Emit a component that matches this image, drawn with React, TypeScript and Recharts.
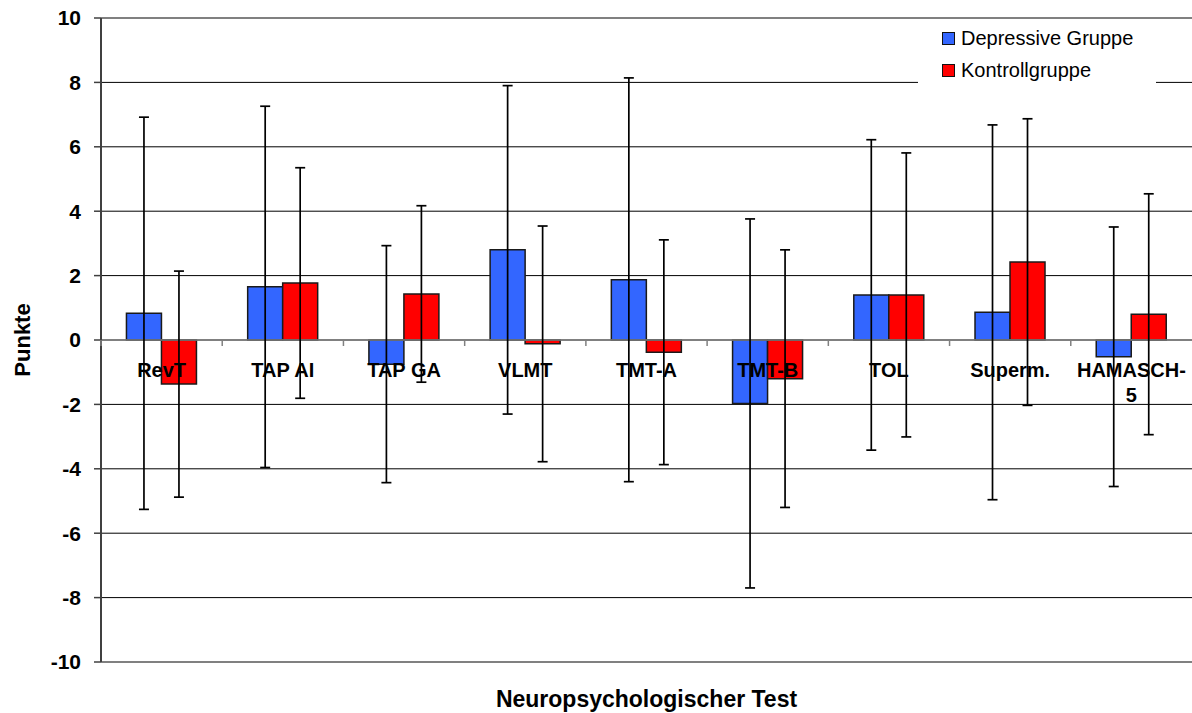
import {
  BarChart,
  Bar,
  XAxis,
  YAxis,
  CartesianGrid,
  ReferenceLine,
  ErrorBar,
  Legend,
  Label,
} from "recharts";

const tests = ["RevT", "TAP AI", "TAP GA", "VLMT", "TMT-A", "TMT-B", "TOL", "Superm.", "HAMASCH-5"];
const depressive = [0.83, 1.65, -0.75, 2.8, 1.87, -1.97, 1.4, 0.86, -0.52];
const depressiveSd = [6.09, 5.61, 3.68, 5.1, 6.27, 5.73, 4.82, 5.82, 4.03];
const kontroll = [-1.37, 1.77, 1.43, -0.12, -0.38, -1.2, 1.4, 2.42, 0.8];
const kontrollSd = [3.51, 3.58, 2.74, 3.66, 3.49, 4.0, 4.41, 4.45, 3.74];
const yTicks = [-10, -8, -6, -4, -2, 0, 2, 4, 6, 8, 10];

const data = tests.map((test, i) => ({
  test,
  dep: depressive[i],
  depErr: depressiveSd[i],
  kon: kontroll[i],
  konErr: kontrollSd[i],
}));

const W = 1192;
const H = 713;
const TOP = 18;
const XAXIS_H = 51;
const YAXIS_W = 101;
const Y_MIN = -10;
const Y_MAX = 10;
const FONT = "'Liberation Sans', Arial, Helvetica, sans-serif";

const BLUE = "#3366FF";
const RED = "#FF0000";

const plotH = H - XAXIS_H - TOP;
const zeroY = TOP + (plotH * Y_MAX) / (Y_MAX - Y_MIN);
const bandW = (W - YAXIS_W) / tests.length;

function CategoryTick(props: any) {
  const { x, payload } = props;
  const label: string = payload.value;
  const lines = label === "HAMASCH-5" ? ["HAMASCH-", "5"] : [label];
  return (
    <g>
      <line x1={x - bandW / 2} x2={x - bandW / 2} y1={zeroY} y2={zeroY + 6} stroke="#808080" strokeWidth={1.5} />
      {lines.map((l, i) => (
        <text
          key={i}
          x={x}
          y={zeroY + 37 + i * 25}
          textAnchor="middle"
          fontFamily={FONT}
          fontWeight="bold"
          fontSize={20}
          fill="#000"
        >
          {l}
        </text>
      ))}
    </g>
  );
}

function LegendBox() {
  const items = [
    { name: "Depressive Gruppe", color: BLUE },
    { name: "Kontrollgruppe", color: RED },
  ];
  return (
    <div style={{ background: "#fff", width: 238, height: 70, paddingTop: 3, boxSizing: "border-box" }}>
      {items.map((it) => (
        <div key={it.name} style={{ display: "flex", alignItems: "center", height: 31.6, paddingLeft: 24 }}>
          <span
            style={{
              display: "inline-block",
              width: 11,
              height: 11,
              background: it.color,
              border: "1px solid #111",
              marginRight: 6,
            }}
          />
          <span style={{ fontFamily: FONT, fontSize: 20, color: "#000" }}>{it.name}</span>
        </div>
      ))}
    </div>
  );
}

export default function App() {
  return (
    <div style={{ position: "absolute", left: 0, top: 0, background: "#fff" }}>
      <BarChart
        width={W}
        height={H}
        data={data}
        margin={{ top: TOP, right: 0, bottom: 0, left: 0 }}
        barCategoryGap="21%"
        barGap={0}
      >
        <CartesianGrid vertical={false} stroke="#000" strokeWidth={1} />
        <XAxis
          dataKey="test"
          height={XAXIS_H}
          axisLine={false}
          tickLine={false}
          interval={0}
          tick={<CategoryTick />}
        >
          <Label
            value="Neuropsychologischer Test"
            position="insideBottom"
            offset={6}
            style={{ fontFamily: FONT, fontWeight: "bold", fontSize: 23, fill: "#000" }}
          />
        </XAxis>
        <YAxis
          width={YAXIS_W}
          domain={[Y_MIN, Y_MAX]}
          ticks={yTicks}
          interval={0}
          allowDataOverflow
          axisLine={{ stroke: "#404040", strokeWidth: 2 }}
          tickLine={{ stroke: "#404040", strokeWidth: 1.5 }}
          tickSize={7}
          tickMargin={13}
          tick={{ fontFamily: FONT, fontWeight: "bold", fontSize: 21, fill: "#000" }}
        >
          <Label
            content={(p: any) => {
              const vb = p.viewBox;
              const cy = vb.y + vb.height / 2;
              return (
                <text
                  x={22}
                  y={cy}
                  transform={`rotate(-90, 22, ${cy})`}
                  textAnchor="middle"
                  dominantBaseline="central"
                  fontFamily={FONT}
                  fontWeight="bold"
                  fontSize={22}
                  fill="#000"
                >
                  Punkte
                </text>
              );
            }}
          />
        </YAxis>
        <ReferenceLine y={Y_MAX} stroke="#808080" strokeWidth={2} />
        <ReferenceLine y={Y_MIN} stroke="#808080" strokeWidth={2} />
        <ReferenceLine y={0} stroke="#808080" strokeWidth={1.5} />
        <Legend
          layout="vertical"
          align="center"
          verticalAlign="middle"
          wrapperStyle={{ position: "absolute", left: 918, top: 20, width: 238 }}
          content={<LegendBox />}
        />
        <Bar dataKey="dep" name="Depressive Gruppe" fill={BLUE} stroke="#1a1a1a" strokeWidth={1.5} isAnimationActive={false}>
          <ErrorBar dataKey="depErr" width={5} stroke="#000" strokeWidth={1.7} isAnimationActive={false} />
        </Bar>
        <Bar dataKey="kon" name="Kontrollgruppe" fill={RED} stroke="#1a1a1a" strokeWidth={1.5} isAnimationActive={false}>
          <ErrorBar dataKey="konErr" width={5} stroke="#000" strokeWidth={1.7} isAnimationActive={false} />
        </Bar>
      </BarChart>
    </div>
  );
}
